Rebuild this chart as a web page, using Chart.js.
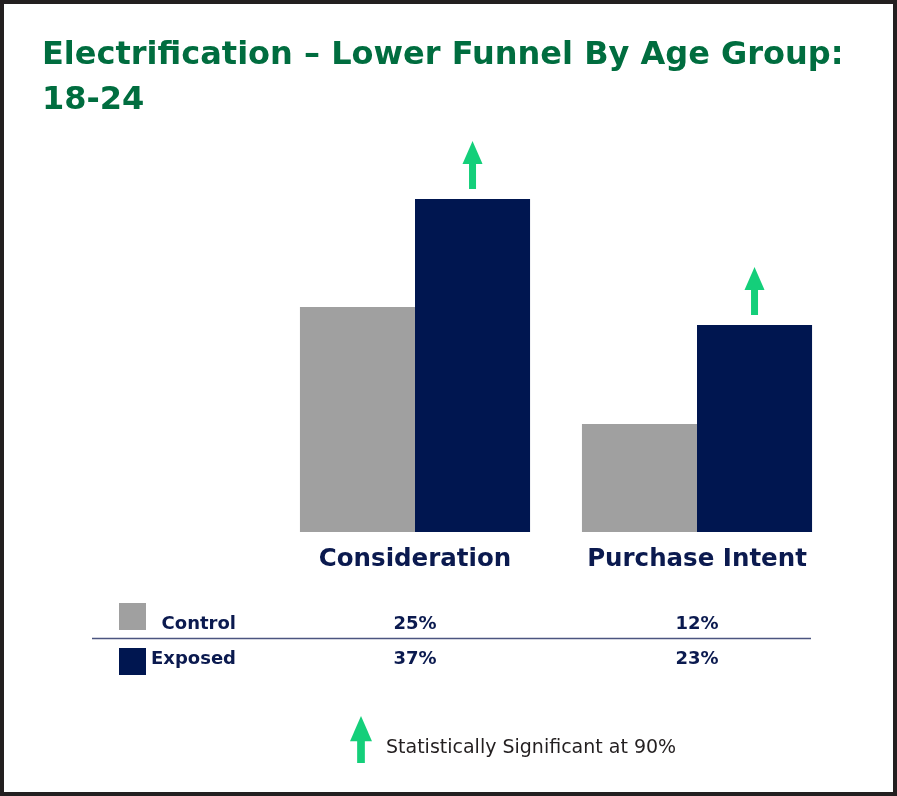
<!DOCTYPE html>
<html>
<head>
<meta charset="utf-8">
<script src="https://cdn.jsdelivr.net/npm/chart.js@4"></script>
<style>
  body { margin: 0; background: #fff; }
  #wrap { position: relative; width: 897px; height: 796px; }
  #chart { position: absolute; left: 0; top: 0; }
  h1 {
    position: absolute; left: 42px; top: 31px; margin: 0; white-space: nowrap;
    font-family: "DejaVu Sans", sans-serif; font-weight: 700;
    font-size: 32px; line-height: 45px; color: #006d3f;
  }
</style>
</head>
<body>
<div id="wrap">
  <canvas id="chart" width="897" height="796"></canvas>
  <h1>Electrification – Lower Funnel By Age Group:<br>18-24</h1>
</div>
<script>
var categories = ['Consideration', 'Purchase Intent']
var control = [25, 12]
var exposed = [37, 23]
var exposedSig = [true, true]
var footnote = 'Statistically Significant at 90%'

var navy = '#001650'
var grey = '#a0a0a0'
var green = '#14cf7a'
var fam = '"DejaVu Sans", sans-serif'

function arrow(ctx, cx, bottom, top, w) {
  var head = 23 * w / 20
  ctx.save()
  ctx.fillStyle = green
  ctx.fillRect(cx - 3.5 * w / 20, top + head - 1, 7 * w / 20, bottom - top - head + 1)
  ctx.beginPath()
  ctx.moveTo(cx, top)
  ctx.lineTo(cx + w / 2, top + head)
  ctx.lineTo(cx - w / 2, top + head)
  ctx.closePath()
  ctx.fill()
  ctx.restore()
}

var extras = {
  id: 'extras',
  afterDraw: function(chart) {
    var ctx = chart.ctx
    var x = chart.scales.x
    ctx.save()
    // frame
    ctx.strokeStyle = '#231f20'
    ctx.lineWidth = 4
    ctx.strokeRect(2, 2, 893, 792)

    // significance arrows above exposed bars
    var bars = chart.getDatasetMeta(1).data
    bars.forEach(function(b, i) {
      if (exposedSig[i]) arrow(ctx, b.x, b.y - 10, b.y - 58, 20)
    })

    // table
    ctx.fillStyle = grey
    ctx.fillRect(119, 603, 27, 27)
    ctx.fillStyle = navy
    ctx.fillRect(119, 648, 27, 27)
    ctx.strokeStyle = '#4b5580'
    ctx.lineWidth = 1.5
    ctx.beginPath()
    ctx.moveTo(92, 638.5)
    ctx.lineTo(811, 638.5)
    ctx.stroke()

    ctx.font = 'bold 18px ' + fam
    ctx.fillStyle = '#0b1a4f'
    ctx.textBaseline = 'middle'
    ctx.textAlign = 'right'
    ctx.fillText('Control', 236, 624)
    ctx.fillText('Exposed', 236, 659)
    ctx.textAlign = 'center'
    categories.forEach(function(c, i) {
      var px = x.getPixelForValue(i)
      ctx.fillText(control[i] + '%', px, 624)
      ctx.fillText(exposed[i] + '%', px, 659)
    })

    // footnote
    arrow(ctx, 361, 763, 716, 22)
    ctx.font = '19px ' + fam
    ctx.fillStyle = '#231f20'
    ctx.textAlign = 'left'
    ctx.fillText(footnote, 386, 748)
    ctx.restore()
  }
}

new Chart(document.getElementById('chart'), {
  type: 'bar',
  data: {
    labels: categories,
    datasets: [
      { label: 'Control', data: control, backgroundColor: grey },
      { label: 'Exposed', data: exposed, backgroundColor: navy }
    ]
  },
  options: {
    responsive: false,
    animation: false,
    devicePixelRatio: 1,
    layout: { padding: { left: 274, right: 59, top: 100, bottom: 214 } },
    categoryPercentage: 0.816,
    barPercentage: 1,
    plugins: { legend: { display: false }, tooltip: { enabled: false } },
    scales: {
      y: { display: false, min: 0, max: 48 },
      x: {
        grid: { display: false },
        border: { display: false },
        ticks: {
          color: '#0b1a4f',
          padding: 5,
          font: { family: fam, size: 24.5, weight: 'bold' }
        },
        afterFit: function(s) { s.height = 50 }
      }
    }
  },
  plugins: [extras]
})
</script>
</body>
</html>
